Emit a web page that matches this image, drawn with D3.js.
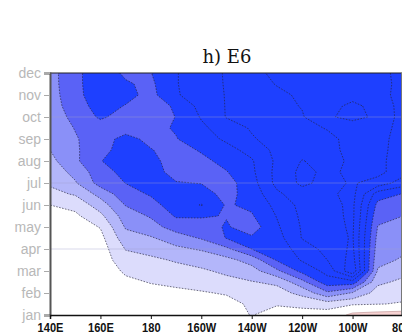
<!DOCTYPE html>
<html>
<head>
<meta charset="utf-8">
<script src="https://cdnjs.cloudflare.com/ajax/libs/d3/7.8.5/d3.min.js"></script>
<style>
  body { margin: 0; background: #fff; }
  svg { display: block; }
</style>
</head>
<body>
<svg id="chart"></svg>
<script>
const width = 402;
const height = 336;
const plot = {left: 50, right: 403, top: 73, bottom: 315};

// grid: longitudes (deg E) and months (0 = jan), half-month steps
const lons = [140, 150, 160, 170, 180, 190, 200, 210, 220, 230, 240, 250, 260, 270, 280];
const months = [0, 0.5, 1, 1.5, 2, 2.5, 3, 3.5, 4, 4.5, 5, 5.5, 6, 6.5, 7, 7.5, 8, 8.5, 9, 9.5, 10, 10.5, 11];
const monthLabels = ["jan", "feb", "mar", "apr", "may", "jun", "jul", "aug", "sep", "oct", "nov", "dec"];
const lonTicks = [140, 160, 180, 200, 220, 240, 260, 280];
const lonLabels = ["140E", "160E", "180", "160W", "140W", "120W", "100W", "80W"];
const gridMonths = [3, 6, 9];

// contour levels (negative = blue, dashed) and the positive one (pink)
const negLevels = [-1, -2, -3, -4, -5, -6, -7, -8, -9];
const posLevels = [1];
const fillColors = ["#dcdcfc", "#b3b6fa", "#8a90f8", "#5a62f6", "#1e40ff"];

// anomaly field, one row per half month, jan first
const anom = [
  [-0.1, -0.1, -0.15, -0.3, -0.4, -0.45, -0.5, -0.5, -1.05, -0.5, -0.6, -0.5, 1.5, 1.8, 2.0],
  [-0.1, -0.15, -0.2, -0.4, -0.5, -0.55, -0.6, -0.6, -1.2, -1.1, -1.25, -1.5, -1.2, -1.05, -0.9],
  [-0.2, -0.2, -0.25, -0.5, -0.7, -0.8, -0.9, -1.1, -1.55, -1.6, -2.3, -3.8, -2.9, -1.6, -1.4],
  [-0.2, -0.25, -0.3, -0.8, -1.05, -1.2, -1.45, -1.7, -1.95, -2.2, -3.7, -5.6, -5.6, -2.2, -1.8],
  [-0.2, -0.3, -0.4, -1.15, -1.45, -1.65, -1.85, -2.2, -2.6, -3.8, -5.3, -6.3, -8.8, -2.9, -2.3],
  [-0.3, -0.3, -0.45, -1.6, -1.8, -2.1, -2.4, -2.7, -3.4, -5.1, -6.1, -7.0, -8.4, -3.25, -2.9],
  [-0.3, -0.35, -0.5, -2.05, -2.35, -2.8, -3.1, -3.8, -5.0, -5.35, -6.5, -7.3, -8.2, -3.5, -3.15],
  [-0.4, -0.4, -0.7, -2.6, -2.9, -3.5, -4.1, -5.05, -5.15, -5.6, -7.05, -7.5, -8.1, -3.7, -3.4],
  [-0.5, -0.5, -1.05, -3.1, -3.6, -4.45, -4.55, -5.1, -4.5, -5.85, -7.1, -7.6, -8.15, -3.95, -3.7],
  [-0.7, -0.8, -1.75, -3.5, -4.1, -5.1, -5.1, -4.95, -4.9, -6.05, -7.2, -7.65, -8.2, -4.3, -4.0],
  [-1.0, -1.3, -2.5, -4.05, -4.65, -5.5, -6.05, -4.9, -5.2, -6.3, -7.3, -7.7, -8.2, -4.7, -4.5],
  [-1.7, -2.1, -3.35, -4.6, -5.1, -5.5, -5.4, -4.7, -5.4, -6.8, -7.6, -7.8, -8.3, -5.5, -4.95],
  [-2.15, -2.9, -4.4, -5.02, -5.4, -5.05, -4.97, -4.6, -5.6, -7.3, -8.2, -7.7, -8.1, -7.6, -6.5],
  [-2.4, -3.3, -4.6, -5.3, -5.35, -4.7, -4.6, -4.95, -5.8, -7.3, -8.25, -7.8, -8.2, -8.3, -7.4],
  [-2.7, -3.8, -4.97, -5.4, -5.25, -4.6, -4.75, -5.3, -5.9, -7.2, -8.05, -7.6, -8.2, -8.3, -7.4],
  [-3.0, -3.85, -4.7, -5.4, -5.05, -4.6, -5.1, -5.7, -6.3, -7.3, -7.6, -7.7, -8.3, -8.4, -7.4],
  [-3.15, -3.9, -4.6, -5.3, -4.75, -4.95, -5.6, -6.15, -6.9, -7.4, -7.6, -7.8, -8.25, -8.4, -7.5],
  [-3.3, -4.05, -4.5, -4.6, -4.7, -5.1, -5.8, -6.5, -7.1, -7.5, -7.75, -8.05, -8.4, -8.5, -7.6],
  [-3.4, -4.3, -5.15, -4.6, -4.6, -5.02, -6.08, -7.05, -7.33, -7.62, -7.92, -8.86, -9.3, -8.8, -7.6],
  [-3.5, -4.55, -5.4, -4.95, -4.5, -5.15, -6.33, -7.05, -7.4, -7.7, -8.05, -8.7, -9.2, -8.7, -7.6],
  [-3.55, -4.7, -5.6, -5.3, -4.7, -5.9, -6.5, -7.05, -7.45, -7.8, -8.15, -8.55, -8.7, -8.4, -7.6],
  [-3.6, -4.75, -5.6, -5.1, -4.8, -5.95, -6.5, -7.08, -7.6, -8.05, -8.4, -8.5, -8.6, -8.5, -7.6],
  [-3.6, -4.8, -5.5, -4.85, -4.97, -5.95, -6.5, -7.1, -7.75, -8.2, -8.4, -8.5, -8.6, -8.4, -7.6]
];

const svg = d3.select("#chart")
    .attr("width", width)
    .attr("height", height);

const x = d3.scaleLinear()
    .domain([lons[0], lons[lons.length - 1]])
    .range([plot.left, plot.right]);

const y = d3.scaleLinear()
    .domain([0, 11])
    .range([plot.bottom, plot.top]);

svg.append("defs").append("clipPath")
    .attr("id", "clip")
  .append("rect")
    .attr("x", plot.left)
    .attr("y", plot.top)
    .attr("width", width - plot.left)
    .attr("height", plot.bottom - plot.top);

// grid index space -> pixels (sample i sits at i + 0.5)
const lonStep = lons[1] - lons[0];
const monStep = months[1] - months[0];
const toPx = d3.geoTransform({
    point: function(gx, gy) {
        this.stream.point(x(lons[0] + (gx - 0.5) * lonStep), y(months[0] + (gy - 0.5) * monStep));
    }
});
const path = d3.geoPath(toPx);

const nx = lons.length;
const ny = months.length;
const values = anom.flat();
const cooling = values.map(v => -v);

const negContours = d3.contours()
    .size([nx, ny])
    .thresholds(negLevels.map(l => -l))(cooling);

const posContours = d3.contours()
    .size([nx, ny])
    .thresholds(posLevels)(values);

const field = svg.append("g").attr("clip-path", "url(#clip)");

field.append("rect")
    .attr("x", plot.left)
    .attr("y", plot.top)
    .attr("width", width - plot.left)
    .attr("height", plot.bottom - plot.top)
    .attr("fill", "#fff");

// filled bands
field.selectAll(".band")
    .data(negContours.slice(0, fillColors.length))
    .enter()
    .append("path")
    .attr("class", "band")
    .attr("d", path)
    .attr("fill", (d, i) => fillColors[i])
    .attr("stroke", "none");

field.selectAll(".pos")
    .data(posContours)
    .enter()
    .append("path")
    .attr("class", "pos")
    .attr("d", path)
    .attr("fill", "#f6d2d2")
    .attr("stroke", "#b88a8a")
    .attr("stroke-width", 0.6);

// dashed contour lines
field.selectAll(".cline")
    .data(negContours)
    .enter()
    .append("path")
    .attr("class", "cline")
    .attr("d", path)
    .attr("fill", "none")
    .attr("stroke", "#22223a")
    .attr("stroke-opacity", 0.85)
    .attr("stroke-width", 0.75)
    .attr("stroke-dasharray", "1.6,1.4");

// faint month gridlines
field.selectAll(".grid")
    .data(gridMonths)
    .enter()
    .append("line")
    .attr("x1", plot.left)
    .attr("x2", width)
    .attr("y1", d => y(d))
    .attr("y2", d => y(d))
    .attr("stroke", "#a0a0cc")
    .attr("stroke-opacity", 0.4)
    .attr("stroke-width", 1);

// frame
svg.append("line")
    .attr("x1", plot.left).attr("x2", width)
    .attr("y1", plot.top).attr("y2", plot.top)
    .attr("stroke", "#222").attr("stroke-width", 1.2);

svg.append("line")
    .attr("x1", 401.5).attr("x2", 401.5)
    .attr("y1", plot.top).attr("y2", plot.bottom)
    .attr("stroke", "#777").attr("stroke-width", 1);

const yAxis = d3.axisLeft(y)
    .tickValues(d3.range(12))
    .tickFormat(d => monthLabels[d])
    .tickSize(6)
    .tickPadding(3);

const gy = svg.append("g")
    .attr("transform", `translate(${plot.left}, 0)`)
    .call(yAxis);
gy.select(".domain").attr("stroke", "#555").attr("stroke-width", 2);
gy.selectAll(".tick line").attr("stroke", "#aaa");
gy.selectAll(".tick text")
    .attr("fill", "#b8b8b8")
    .style("font-family", "'Liberation Sans', Arial, sans-serif")
    .style("font-size", "14px");

const xAxis = d3.axisBottom(x)
    .tickValues(lonTicks)
    .tickFormat((d, i) => lonLabels[i])
    .tickSize(4)
    .tickPadding(3);

const gx = svg.append("g")
    .attr("transform", `translate(0, ${plot.bottom})`)
    .call(xAxis);
gx.select(".domain").attr("stroke", "#111").attr("stroke-width", 1.5);
gx.selectAll(".tick line").attr("stroke", "#111");
gx.selectAll(".tick text")
    .attr("fill", "#111")
    .style("font-family", "'Liberation Sans', Arial, sans-serif")
    .style("font-size", "13.5px")
    .style("font-weight", "bold")
    .each(function() {
        const w = this.getComputedTextLength();
        d3.select(this)
            .attr("textLength", w * 0.82)
            .attr("lengthAdjust", "spacingAndGlyphs");
    });

// title
svg.append("text")
    .attr("x", 227)
    .attr("y", 63)
    .attr("text-anchor", "middle")
    .style("font-family", "'DejaVu Serif', serif")
    .style("font-size", "18px")
    .attr("fill", "#111")
    .text("h) E6");
</script>
</body>
</html>
